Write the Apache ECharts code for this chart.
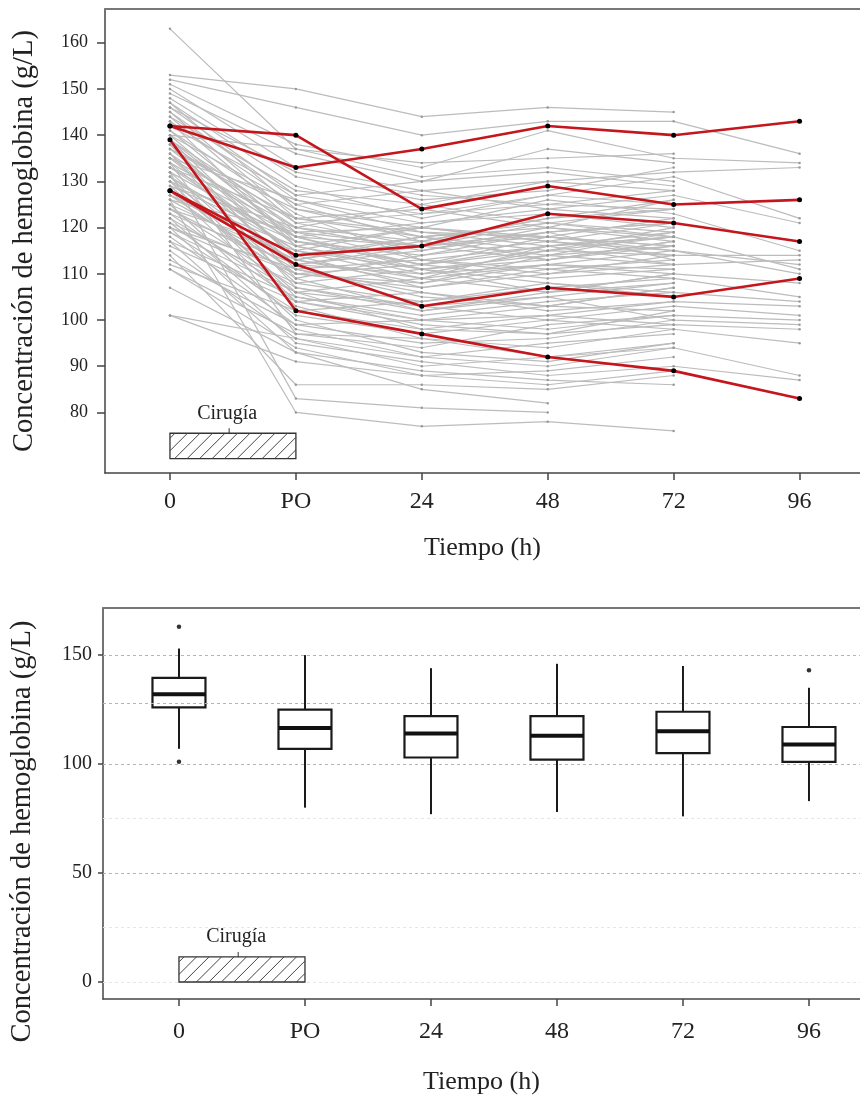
<!DOCTYPE html>
<html>
<head>
<meta charset="utf-8">
<script src="https://cdn.jsdelivr.net/npm/echarts@6/dist/echarts.min.js"></script>
<style>
  html, body { margin: 0; padding: 0; background: #fff; }
  #grafico { width: 860px; height: 1097px; }
</style>
</head>
<body>
<div id="grafico"></div>
<script>
const categorias = ['0', 'PO', '24', '48', '72', '96']
const ticksSuperior = [80, 90, 100, 110, 120, 130, 140, 150, 160]
const ticksInferior = [0, 50, 100, 150]

// hemoglobina por paciente: [0, PO, 24, 48, 72, 96] (null = sin dato)
const pacientes = [
  [163, 137, 131, 133, 130, null],
  [153, 150, 144, 146, 145, null],
  [152, 146, 140, 143, 143, 136],
  [151, 138, 133, 141, 135, 134],
  [150, 133, 128, 130, 132, 133],
  [149, 136, 130, 137, 134, null],
  [148, 131, 126, 128, 133, null],
  [147, 129, 122, 127, 131, 122],
  [147, 124, 118, 121, 124, null],
  [146, 127, 130, 132, 129, null],
  [146, 132, 127, 125, 124, null],
  [145, 126, 121, 124, 127, 121],
  [145, 122, 119, 118, 122, null],
  [144, 128, 125, 130, 128, null],
  [144, 121, 116, 119, 121, null],
  [143, 125, 117, 122, 126, null],
  [143, 116, 111, 113, 117, null],
  [142, 127, 123, 127, 125, null],
  [141, 119, 120, 126, 123, 115],
  [141, 123, 113, 116, 119, null],
  [140, 137, 134, 135, 136, null],
  [140, 117, 112, 118, 116, null],
  [140, 125, 128, 124, 122, null],
  [139, 121, 123, 125, 128, null],
  [139, 113, 108, 114, 112, 113],
  [139, 118, 112, 115, 114, 114],
  [138, 120, 115, 120, 118, null],
  [138, 109, 102, 106, 110, null],
  [138, 113, 117, 114, 116, null],
  [137, 124, 120, 117, 121, null],
  [137, 116, 110, 112, 115, 112],
  [137, 122, 118, 120, 117, null],
  [136, 118, 121, 123, 120, null],
  [136, 111, 106, 103, 107, null],
  [136, 107, 103, 105, 108, null],
  [135, 126, 119, 116, 118, 111],
  [135, 114, 118, 113, 117, null],
  [135, 120, 125, 121, 119, null],
  [134, 97, 94, 99, 101, 100],
  [134, 119, 113, 110, 114, null],
  [134, 112, 110, 115, 118, null],
  [133, 115, 109, 116, 112, null],
  [133, 122, 124, 120, 126, null],
  [133, 118, 116, 118, 115, null],
  [132, 108, 104, 108, 106, 104],
  [132, 117, 114, 119, 121, null],
  [132, 83, 81, 80, null, null],
  [131, 112, 116, 121, 118, null],
  [131, 105, 100, 101, 104, 103],
  [131, 115, 120, 117, 114, null],
  [130, 118, 111, 114, 119, null],
  [130, 110, 112, 109, 111, null],
  [130, 104, 100, 103, 102, null],
  [129, 120, 117, 122, 124, null],
  [129, 106, 98, 97, 99, 98],
  [129, 117, 112, 116, 118, null],
  [128, 114, 107, 111, 113, null],
  [128, 103, 96, 94, 98, 95],
  [127, 116, 120, 118, 116, null],
  [127, 109, 114, 117, 115, 110],
  [127, 113, 118, 115, 120, null],
  [126, 80, 77, 78, 76, null],
  [126, 111, 105, 103, 107, null],
  [126, 119, 116, 113, 116, null],
  [125, 113, 109, 112, 110, 108],
  [125, 100, 93, 91, 95, null],
  [124, 115, 111, 106, 108, null],
  [124, 107, 102, 105, 100, 99],
  [124, 110, 108, 112, 111, null],
  [123, 104, 99, 97, 102, null],
  [123, 112, 115, 119, 113, null],
  [122, 98, 92, 90, 94, 88],
  [122, 106, 109, 106, 110, null],
  [121, 110, 107, 110, 112, null],
  [121, 101, 97, 100, 103, 101],
  [120, 108, 111, 108, 105, null],
  [120, 95, 91, 88, 90, 87],
  [120, 111, 113, 111, 109, null],
  [119, 106, 103, 100, 98, null],
  [119, 102, 104, 107, 109, 105],
  [118, 99, 95, 96, 100, null],
  [117, 105, 101, 104, 106, null],
  [117, 93, 89, 87, 86, null],
  [116, 104, 106, 102, 104, null],
  [115, 96, 92, 95, 97, null],
  [114, 86, 86, 85, 88, null],
  [113, 99, 100, 98, 101, null],
  [112, 102, 98, 101, 99, null],
  [111, 94, 88, 89, 92, null],
  [111, 97, 96, 92, 95, null],
  [107, 93, 85, 82, null, null],
  [101, 96, 90, 92, 94, null],
  [101, 91, 88, 86, 89, null],
]

// pacientes resaltados en rojo
const destacados = [
  [142, 140, 124, 129, 125, 126],
  [142, 133, 137, 142, 140, 143],
  [139, 102, 97, 92, 89, 83],
  [128, 114, 116, 123, 121, 117],
  [128, 112, 103, 107, 105, 109],
]

// diagrama de cajas
const cajaMin = [107, 80, 77, 78, 76, 83]
const cajaQ1 = [126, 107, 103, 102, 105, 101]
const cajaMediana = [132, 116.5, 114, 113, 115, 109]
const cajaQ3 = [139.5, 125, 122, 122, 124, 117]
const cajaMax = [153, 150, 144, 146, 145, 135]
const atipicos = [[0, 163], [0, 101], [5, 143]]
const lineasGuia = [50, 100, 128, 150]
const lineasTenues = [0, 25, 75]

const fuente = 'Liberation Serif'
const texto = '#222'

const chart = echarts.init(document.getElementById('grafico'), null, { renderer: 'canvas' })

function ejeX(grid, min, max, margen, gap) {
  return {
    type: 'value',
    gridIndex: grid,
    min,
    max,
    name: 'Tiempo (h)',
    nameLocation: 'middle',
    nameGap: gap,
    nameTextStyle: { fontFamily: fuente, fontSize: 26, color: texto },
    axisLine: { show: true, onZero: false, lineStyle: { color: '#444', width: 1.5 } },
    axisTick: { show: true, length: 7, customValues: [0, 1, 2, 3, 4, 5], lineStyle: { color: '#444', width: 1.5 } },
    axisLabel: {
      customValues: [0, 1, 2, 3, 4, 5],
      formatter: v => categorias[v],
      fontFamily: fuente,
      fontSize: 24,
      color: texto,
      margin: margen,
    },
    splitLine: { show: false },
  }
}

function bordeSuperior(grid, min, max) {
  return {
    type: 'value',
    gridIndex: grid,
    position: 'top',
    min,
    max,
    axisLine: { show: true, onZero: false, lineStyle: { color: '#777', width: 2 } },
    axisTick: { show: false },
    axisLabel: { show: false },
    splitLine: { show: false },
  }
}

function ejeY(grid, min, max, ticks, tamano, margen, largo, relleno) {
  return {
    type: 'value',
    gridIndex: grid,
    min,
    max,
    name: 'Concentración de hemoglobina (g/L)',
    nameLocation: 'middle',
    nameGap: 66,
    nameTextStyle: { fontFamily: fuente, fontSize: 28.5, color: texto, padding: relleno },
    axisLine: { show: true, onZero: false, lineStyle: { color: '#444', width: 1.5 } },
    axisTick: { show: true, length: largo, customValues: ticks, lineStyle: { color: '#444', width: 1.5 } },
    axisLabel: { customValues: ticks, fontFamily: fuente, fontSize: tamano, color: texto, margin: margen },
    splitLine: { show: false },
  }
}

function dibujarCirugia(yBajo, yAlto) {
  return function (params, api) {
    const a = api.coord([0, yAlto])
    const b = api.coord([1, yBajo])
    const x0 = a[0]
    const x1 = b[0]
    const yT = a[1]
    const yB = b[1]
    const h = yB - yT
    const hijos = [{
      type: 'rect',
      shape: { x: x0, y: yT, width: x1 - x0, height: h },
      style: { fill: '#fff', stroke: '#333', lineWidth: 1.3 },
    }]
    for (let c = x0 - h + 5; c < x1; c += 12.5) {
      let sx = c
      let sy = yB
      if (sx < x0) { sy = yB - (x0 - sx); sx = x0 }
      let ex = c + h
      let ey = yT
      if (ex > x1) { ey = yB - (x1 - c); ex = x1 }
      hijos.push({
        type: 'line',
        shape: { x1: sx, y1: sy, x2: ex, y2: ey },
        style: { stroke: '#444', lineWidth: 1 },
      })
    }
    const cx = x0 + (x1 - x0) * 0.47
    hijos.push({
      type: 'line',
      shape: { x1: cx, y1: yT, x2: cx, y2: yT - 5 },
      style: { stroke: '#333', lineWidth: 1 },
    })
    hijos.push({
      type: 'text',
      x: cx - 2,
      y: yT - 20,
      style: { text: 'Cirugía', font: `20px "${fuente}"`, fill: texto, align: 'center', verticalAlign: 'middle' },
    })
    return { type: 'group', children: hijos }
  }
}

function dibujarCaja(params, api) {
  const x = api.value(0)
  const pMin = api.coord([x, api.value(1)])
  const pQ1 = api.coord([x, api.value(2)])
  const pMed = api.coord([x, api.value(3)])
  const pQ3 = api.coord([x, api.value(4)])
  const pMax = api.coord([x, api.value(5)])
  const cx = pMed[0]
  const m = 26.5
  return {
    type: 'group',
    children: [
      { type: 'line', shape: { x1: cx, y1: pMax[1], x2: cx, y2: pQ3[1] }, style: { stroke: '#1a1a1a', lineWidth: 2 } },
      { type: 'line', shape: { x1: cx, y1: pQ1[1], x2: cx, y2: pMin[1] }, style: { stroke: '#1a1a1a', lineWidth: 2 } },
      { type: 'rect', shape: { x: cx - m, y: pQ3[1], width: 2 * m, height: pQ1[1] - pQ3[1] }, style: { fill: '#fff', stroke: '#1a1a1a', lineWidth: 2.2 } },
      { type: 'line', shape: { x1: cx - m, y1: pMed[1], x2: cx + m, y2: pMed[1] }, style: { stroke: '#111', lineWidth: 4 } },
    ],
  }
}

const series = []

pacientes.forEach((fila) => {
  series.push({
    type: 'line',
    xAxisIndex: 0,
    yAxisIndex: 0,
    data: fila.map((v, i) => [i, v]).filter(p => p[1] !== null),
    symbol: 'circle',
    symbolSize: 2.5,
    itemStyle: { color: '#9a9a9a' },
    lineStyle: { color: '#bcbcbc', width: 1.2 },
    silent: true,
    z: 2,
  })
})

destacados.forEach((fila) => {
  series.push({
    type: 'line',
    xAxisIndex: 0,
    yAxisIndex: 0,
    data: fila.map((v, i) => [i, v]),
    symbol: 'circle',
    symbolSize: 5,
    showAllSymbol: true,
    itemStyle: { color: '#000' },
    lineStyle: { color: '#c4161c', width: 2.6 },
    silent: true,
    z: 4,
  })
})

series.push({
  type: 'custom',
  xAxisIndex: 0,
  yAxisIndex: 0,
  renderItem: dibujarCirugia(70, 75.5),
  data: [[0, 70]],
  silent: true,
  z: 5,
})

series.push({
  type: 'custom',
  xAxisIndex: 2,
  yAxisIndex: 1,
  renderItem: dibujarCaja,
  encode: { x: 0, y: [1, 2, 3, 4, 5] },
  data: categorias.map((c, i) => [i, cajaMin[i], cajaQ1[i], cajaMediana[i], cajaQ3[i], cajaMax[i]]),
  silent: true,
  z: 4,
  markLine: {
    silent: true,
    symbol: 'none',
    label: { show: false },
    data: lineasGuia.map(v => ({ yAxis: v, lineStyle: { color: '#b5b5b5', type: [3, 3], width: 1 } }))
      .concat(lineasTenues.map(v => ({ yAxis: v, lineStyle: { color: '#e6e6e6', type: [3, 3], width: 1 } }))),
  },
})

series.push({
  type: 'scatter',
  xAxisIndex: 2,
  yAxisIndex: 1,
  data: atipicos,
  symbolSize: 4.5,
  itemStyle: { color: '#000' },
  silent: true,
  z: 5,
})

series.push({
  type: 'custom',
  xAxisIndex: 2,
  yAxisIndex: 1,
  renderItem: dibujarCirugia(0, 11.5),
  data: [[0, 0]],
  silent: true,
  z: 5,
})

chart.setOption({
  animation: false,
  backgroundColor: '#fff',
  grid: [
    { left: 105, top: 9, right: 0, height: 464 },
    { left: 103, top: 608, right: 0, height: 391 },
  ],
  xAxis: [
    ejeX(0, -0.516, 5.48, 17, 62),
    bordeSuperior(0, -0.516, 5.48),
    ejeX(1, -0.603, 5.405, 21, 70),
    bordeSuperior(1, -0.603, 5.405),
  ],
  yAxis: [
    ejeY(0, 66.9, 167.3, ticksSuperior, 18, 17, 8, [0, 0, 0, 0]),
    ejeY(1, -7.8, 171.6, ticksInferior, 20, 11, 5, [0, 56, 0, 0]),
  ],
  series,
})
</script>
</body>
</html>
